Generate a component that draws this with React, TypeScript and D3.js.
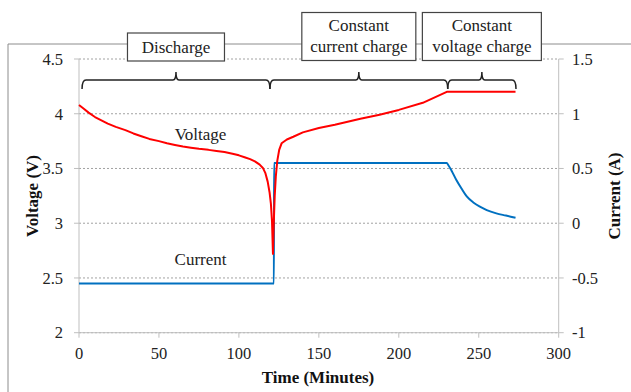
import React from 'react';
import * as d3 from 'd3';

// voltage trace (minutes, volts)
const voltageTime = [0, 3, 6, 10, 14, 18, 23, 29, 34, 39, 44, 50, 55, 60, 65, 70, 75, 81, 86, 91, 96, 100, 104, 107, 110, 113, 115, 116.5, 118, 119.2, 120, 120.7, 121.3, 121.8, 122.4, 123.1, 124, 125.2, 126.7, 130, 134, 140, 150, 160, 176, 188, 200, 215, 230, 273];
const voltageValues = [4.08, 4.045, 4.01, 3.97, 3.94, 3.91, 3.88, 3.85, 3.82, 3.795, 3.77, 3.75, 3.73, 3.715, 3.70, 3.69, 3.68, 3.67, 3.66, 3.65, 3.635, 3.62, 3.6, 3.585, 3.565, 3.535, 3.505, 3.46, 3.38, 3.28, 3.18, 3.02, 2.72, 3.0, 3.25, 3.43, 3.57, 3.67, 3.73, 3.765, 3.79, 3.83, 3.87, 3.9, 3.955, 3.99, 4.035, 4.1, 4.2, 4.2];

// current trace (minutes, amps)
const currentTime = [0, 121.9, 121.95, 230, 231, 233, 236, 239.3, 242.5, 246.6, 251, 255, 261, 267, 273];
const currentValues = [-0.55, -0.55, 0.55, 0.55, 0.53, 0.48, 0.395, 0.315, 0.245, 0.19, 0.15, 0.12, 0.09, 0.07, 0.05];

const xTicks = [0, 50, 100, 150, 200, 250, 300];
const voltTicks = [2, 2.5, 3, 3.5, 4, 4.5];
const currTicks = [-1, -0.5, 0, 0.5, 1, 1.5];

const phaseLabels = [['Discharge'], ['Constant', 'current charge'], ['Constant', 'voltage charge']];
const phaseStart = [1.9, 119.4, 230.6];
const phaseEnd = [119.4, 230.6, 273.3];

const FONT = 'Liberation Serif';

export default function App() {
  const W = 631;
  const H = 392;
  const left = 79;
  const right = 558.7;
  const top = 59;
  const bottom = 332.7;

  const x = d3.scaleLinear().domain([0, 300]).range([left, right]);
  const yV = d3.scaleLinear().domain([2, 4.5]).range([bottom, top]);
  const yI = d3.scaleLinear().domain([-1, 1.5]).range([bottom, top]);

  const voltageLine = d3
    .line<number>()
    .x((_, i) => x(voltageTime[i]))
    .y((d) => yV(d))
    .curve(d3.curveLinear);

  const currentLine = d3
    .line<number>()
    .x((_, i) => x(currentTime[i]))
    .y((d) => yI(d))
    .curve(d3.curveMonotoneX);

  // curly brace over a time range
  const brace = (x1: number, x2: number, y: number) => {
    const m = (x1 + x2) / 2;
    return `M${x1},${y + 9} Q${x1},${y} ${x1 + 4},${y} L${m - 3},${y} Q${m},${y} ${m},${y - 8} Q${m},${y} ${m + 3},${y} L${x2 - 4},${y} Q${x2},${y} ${x2},${y + 9}`;
  };

  const boxW = [97, 114, 119];

  return (
    <svg width={W} height={H} style={{ position: 'absolute', left: 0, top: 0, background: '#fff', fontFamily: FONT }}>
      {/* outer frame */}
      <path d={`M8,${H} L8,44 L${W},44`} fill="none" stroke="#8c8c8c" strokeWidth={1} />

      {/* gridlines */}
      {voltTicks.map((t) => (
        <line key={'g' + t} x1={left} x2={right} y1={yV(t)} y2={yV(t)} stroke="#8a8a8a" strokeWidth={0.8} strokeDasharray="2,2" />
      ))}

      {/* axes */}
      <line x1={left} x2={left} y1={top} y2={bottom} stroke="#bfbfbf" />
      <line x1={right} x2={right} y1={top} y2={bottom} stroke="#bfbfbf" />
      <line x1={left} x2={right} y1={bottom} y2={bottom} stroke="#bfbfbf" />

      {voltTicks.map((t) => (
        <g key={'v' + t}>
          <line x1={left - 5} x2={left} y1={yV(t)} y2={yV(t)} stroke="#bfbfbf" />
          <text x={63} y={yV(t)} dy="0.35em" textAnchor="end" fontSize={16.5} fill="#222">
            {t}
          </text>
        </g>
      ))}
      {currTicks.map((t) => (
        <g key={'c' + t}>
          <line x1={right} x2={right + 5} y1={yI(t)} y2={yI(t)} stroke="#bfbfbf" />
          <text x={572} y={yI(t)} dy="0.35em" textAnchor="start" fontSize={16.5} fill="#222">
            {t}
          </text>
        </g>
      ))}
      {xTicks.map((t) => (
        <g key={'x' + t}>
          <line x1={x(t)} x2={x(t)} y1={bottom} y2={bottom + 5} stroke="#bfbfbf" />
          <text x={x(t)} y={359} textAnchor="middle" fontSize={16.5} fill="#222">
            {t}
          </text>
        </g>
      ))}

      {/* axis titles */}
      <text x={318} y={383} textAnchor="middle" fontSize={17} fontWeight="bold" fill="#111">
        Time (Minutes)
      </text>
      <text transform="translate(38,196) rotate(-90)" textAnchor="middle" fontSize={17} fontWeight="bold" fill="#111">
        Voltage (V)
      </text>
      <text transform="translate(620,196) rotate(-90)" textAnchor="middle" fontSize={17} fontWeight="bold" fill="#111">
        Current (A)
      </text>

      {/* series */}
      <path d={currentLine(currentValues) || ''} fill="none" stroke="#0070c0" strokeWidth={2} />
      <path d={voltageLine(voltageValues) || ''} fill="none" stroke="#ff0000" strokeWidth={2} strokeLinejoin="round" />

      <text x={x(76)} y={yV(3.81)} dy="0.35em" textAnchor="middle" fontSize={17} fill="#222">
        Voltage
      </text>
      <text x={x(76)} y={yV(2.67)} dy="0.35em" textAnchor="middle" fontSize={17} fill="#222">
        Current
      </text>

      {/* phase braces and boxes */}
      {phaseLabels.map((lines, i) => {
        const x1 = x(phaseStart[i]);
        const x2 = x(phaseEnd[i]);
        const m = (x1 + x2) / 2;
        const bh = lines.length === 1 ? 28 : 48;
        const by = lines.length === 1 ? 33 : 12.5;
        return (
          <g key={'p' + i}>
            <path d={brace(x1, x2, 80)} fill="none" stroke="#222" strokeWidth={1.5} />
            <rect x={m - boxW[i] / 2} y={by} width={boxW[i]} height={bh} fill="#fff" stroke="#444" strokeWidth={1.2} />
            {lines.map((s, j) => (
              <text key={j} x={m} y={lines.length === 1 ? 53 : 31 + j * 21} textAnchor="middle" fontSize={17} fill="#222">
                {s}
              </text>
            ))}
          </g>
        );
      })}
    </svg>
  );
}
